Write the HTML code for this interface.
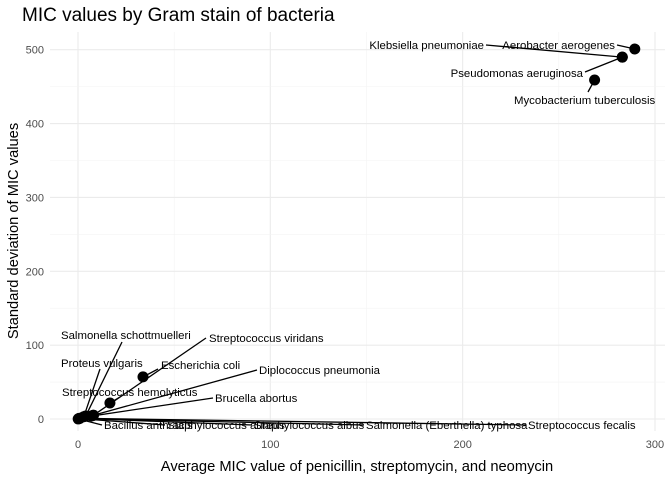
<!DOCTYPE html>
<html><head><meta charset="utf-8"><style>
body{margin:0;background:#fff;font-family:"Liberation Sans",Arial,sans-serif}
svg text{font-family:"Liberation Sans",Arial,sans-serif}
</style></head><body>
<svg id="c" width="672" height="480" xmlns="http://www.w3.org/2000/svg"></svg>
<script>
const names=["Aerobacter aerogenes","Klebsiella pneumoniae","Pseudomonas aeruginosa","Mycobacterium tuberculosis","Salmonella schottmuelleri","Streptococcus viridans","Proteus vulgaris","Escherichia coli","Diplococcus pneumonia","Streptococcus hemolyticus","Brucella abortus","Bacillus anthracis","Staphylococcus aureus","Staphylococcus albus","Salmonella (Eberthella) typhosa","Streptococcus fecalis"];
const xVals=[289.5,283,283,268.6,4,8,3,33.8,8,16.6,7,0.1,0.5,0.8,0.5,1];
const yVals=[501,490,490,459,4,5,3,57,5,21.7,4,0.1,0.5,0.8,0.6,1];
const xTicks=[0,100,200,300];
const yTicks=[0,100,200,300,400,500];
// label placement (layout only): text x, text y, anchor, line-end x, line-end y
const labelPos=[[615,49,"end",617,45],[484,49,"end",486,45],[583,77,"end",585,72],[514,104,"start",588,92],[61,339,"start",122,342],[209,342,"start",206,338],[61,367,"start",100,369],[161,369,"start",158,369],[259,374,"start",257,370],[62,396,"start",120,397],[215,402,"start",213,398],[104,429,"start",102,425],[167,429,"start",165,425],[254,429,"start",252,425],[366,429,"start",364,425],[528,429,"start",526,425]];
const svg=document.getElementById('c');const NS="http://www.w3.org/2000/svg";
function mk(t,a,p){const e=document.createElementNS(NS,t);for(const k in a)e.setAttribute(k,a[k]);(p||svg).appendChild(e);return e;}
const X=v=>78+v*1.9233, Y=v=>419-v*0.7386;
const grid=mk('g',{});
for(let v=-50;v<=300;v+=50){if(X(v)<50)continue;mk('line',{x1:X(v),x2:X(v),y1:32,y2:431,stroke:v%100===0?'#ebebeb':'#f3f3f3','stroke-width':v%100===0?1.1:0.6},grid);}
for(let v=50;v<=500;v+=100)mk('line',{x1:50,x2:665,y1:Y(v),y2:Y(v),stroke:'#f3f3f3','stroke-width':0.6},grid);
yTicks.forEach(v=>{mk('line',{x1:50,x2:665,y1:Y(v),y2:Y(v),stroke:'#ebebeb','stroke-width':1.1},grid);
 const t=mk('text',{x:44,y:Y(v)+4,'text-anchor':'end','font-size':11,fill:'#4d4d4d'});t.textContent=v;
 });
xTicks.forEach(v=>{const t=mk('text',{x:X(v),y:448,'text-anchor':'middle','font-size':11,fill:'#4d4d4d'});t.textContent=v;
 });
names.forEach((n,i)=>{const lp=labelPos[i];
 const l=mk('line',{x1:X(xVals[i]),y1:Y(yVals[i]),x2:lp[3],y2:lp[4],stroke:'#000','stroke-width':1.3});
 });
names.forEach((n,i)=>{const c=mk('circle',{cx:X(xVals[i]),cy:Y(yVals[i]),r:5.5,fill:'#000'});
 });
names.forEach((n,i)=>{const lp=labelPos[i];const t=mk('text',{x:lp[0],y:lp[1],'text-anchor':lp[2],'font-size':11.4,fill:'#000'});t.textContent=n;
 });
let t=mk('text',{x:22,y:21,'font-size':19,fill:'#000'});t.textContent='MIC values by Gram stain of bacteria';

t=mk('text',{x:357,y:471,'text-anchor':'middle','font-size':14.7,fill:'#000'});t.textContent='Average MIC value of penicillin, streptomycin, and neomycin';

t=mk('text',{x:0,y:0,'text-anchor':'middle','font-size':14.7,fill:'#000',transform:'translate(18,231) rotate(-90)'});t.textContent='Standard deviation of MIC values';

</script>
</body></html>
